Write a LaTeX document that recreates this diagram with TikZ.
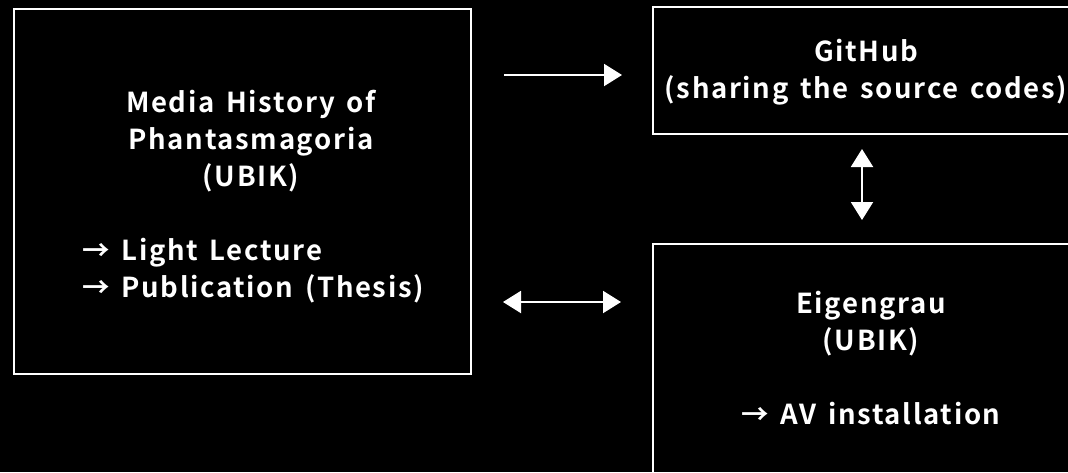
\documentclass[tikz,border=0pt]{standalone}
\usepackage{fontspec}
\setmainfont[LetterSpace=6,WordSpace=1.5,BoldFont={Noto Sans CJK JP Bold}]{Noto Sans CJK JP}
\usetikzlibrary{arrows.meta}
\newcommand\myarr{→}
\begin{document}
\begin{tikzpicture}[x=1pt,y=-1pt,
  box/.style={draw=white,line width=2pt,inner sep=0pt},
  txt/.style={text=white,font=\fontsize{27.5}{37}\selectfont\bfseries,inner sep=0pt},
  arr/.style={white,line width=2pt,-{Triangle[length=18pt,width=22pt]}},
  darr/.style={white,line width=2pt,{Triangle[length=18pt,width=22pt]}-{Triangle[length=18pt,width=22pt]}}]
\fill[black] (0,0) rectangle (1068,472);
\useasboundingbox (0,0) rectangle (1068,472);
\begin{scope}
\clip (0,0) rectangle (1068,472);
\node[box,minimum width=457pt,minimum height=365pt] (lbox) at (242.5,191.5) {};
\node[box,minimum width=430pt,minimum height=127pt] (gh) at (868,70.5) {};
\node[box,minimum width=435pt,minimum height=286pt] (eg) at (870.5,387) {};
\end{scope}
\node[txt,align=center,anchor=base] (t1) at (251,186) {Media History of\\Phantasmagoria\\(UBIK)};
\node[txt,align=left,anchor=base west] (t2) at (82,297) {\myarr\ Light Lecture\\\myarr\ Publication (Thesis)};
\node[txt,align=center,anchor=base] (t3) at (866,98) {GitHub\\(sharing the source codes)};
\node[txt,align=center,anchor=base] (t4) at (871,424) {Eigengrau\\(UBIK)\\[37pt]\myarr\ AV installation};
\draw[arr,shorten <=32pt,shorten >=30pt] (lbox.east |- 0,75) -- (gh.west |- 0,75);
\draw[darr,shorten <=31pt,shorten >=31pt] (lbox.east |- 0,302) -- (eg.west |- 0,302);
\draw[darr,shorten <=14pt,shorten >=23pt] ([xshift=-6pt]gh.south) -- ([xshift=-6pt]gh.south |- eg.north);
\end{tikzpicture}
\end{document}
